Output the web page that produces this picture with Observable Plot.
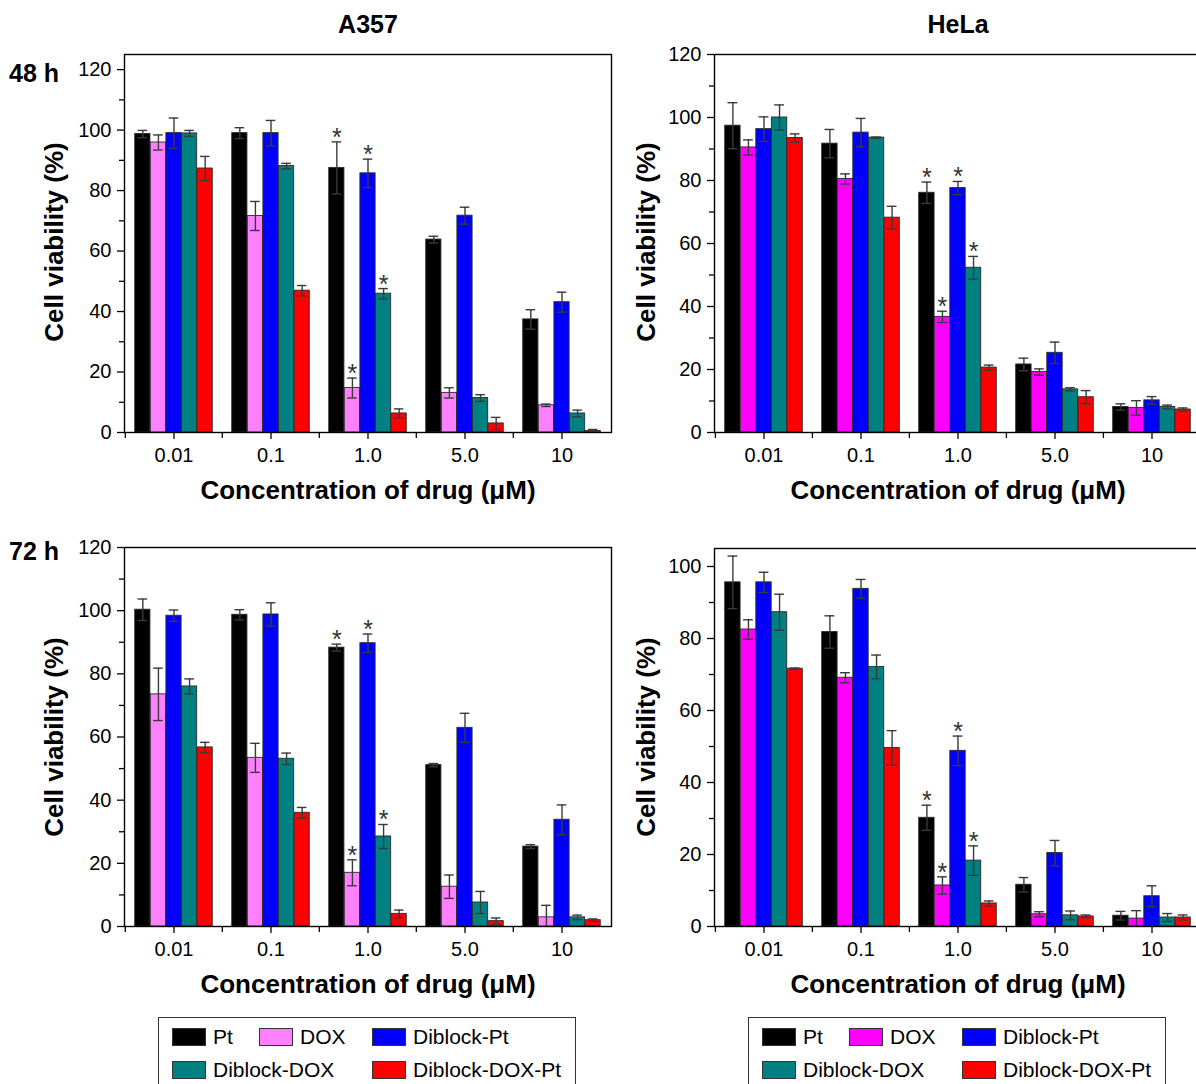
<!DOCTYPE html>
<html>
<head>
<meta charset="utf-8">
<script src="https://cdn.jsdelivr.net/npm/d3@7"></script>
<script src="https://cdn.jsdelivr.net/npm/@observablehq/plot@0.6"></script>
<style>
html, body { margin:0; padding:0; background:#fff; overflow:hidden; width:1196px; height:1084px; }
#page { position:relative; width:1196px; height:1084px; overflow:hidden; font-family:"Liberation Sans", Arial, sans-serif; color:#000; }
.panel { position:absolute; }
.panel svg { max-width:none; display:block; }
.legend { position:absolute; border:1.4px solid #333; background:#fff; box-sizing:border-box; }
.item { position:absolute; display:flex; align-items:center; font-size:21px; white-space:nowrap; height:18px; }
.sw { width:34px; height:18px; border:1px solid #333; box-sizing:border-box; margin-right:7px; flex:none; }
#labels { position:absolute; left:0; top:0; pointer-events:none; }
</style>
</head>
<body>
<div id="page"></div>
<script>
// ---------------- data ----------------
const concentrations = ["0.01", "0.1", "1.0", "5.0", "10"];
const seriesNames = ["Pt", "DOX", "Diblock-Pt", "Diblock-DOX", "Diblock-DOX-Pt"];
const starredSeries = ["Pt", "DOX", "Diblock-Pt", "Diblock-DOX"];
const starredConcentration = "1.0";

// rows follow seriesNames, columns follow concentrations
const a357_48h_mean = [
  [98.7, 99.0, 87.5, 63.8, 37.4],
  [95.9, 71.6, 14.7, 13.1, 9.0],
  [99.0, 99.0, 85.7, 71.7, 43.1],
  [98.9, 88.1, 45.9, 11.4, 6.3],
  [87.3, 46.9, 6.3, 3.0, 0.5]
];
const a357_48h_err = [
  [1.2, 1.8, 8.6, 1.1, 3.2],
  [2.5, 4.8, 3.3, 1.7, 0.4],
  [5.0, 4.2, 4.7, 2.8, 3.3],
  [1.0, 0.9, 1.7, 1.1, 1.1],
  [4.0, 1.7, 1.5, 2.0, 0.5]
];
const hela_48h_mean = [
  [97.4, 91.7, 76.1, 21.6, 8.1],
  [90.5, 80.5, 36.7, 19.2, 7.8],
  [96.3, 95.2, 77.6, 25.3, 10.2],
  [100.0, 93.6, 52.3, 13.7, 8.1],
  [93.5, 68.2, 20.6, 11.2, 7.3]
];
const hela_48h_err = [
  [7.3, 4.5, 3.4, 2.0, 1.0],
  [2.4, 1.6, 1.8, 1.0, 2.3],
  [3.9, 4.5, 2.1, 3.4, 1.2],
  [4.0, 0.2, 3.6, 0.5, 0.6],
  [1.3, 3.6, 0.8, 2.1, 0.5]
];
const a357_72h_mean = [
  [100.3, 98.7, 88.3, 51.1, 25.3],
  [73.5, 53.4, 17.0, 12.6, 2.9],
  [98.4, 98.8, 89.7, 62.9, 33.8],
  [76.0, 53.1, 28.5, 7.6, 2.9],
  [56.7, 36.0, 4.0, 1.7, 2.0]
];
const a357_72h_err = [
  [3.4, 1.6, 1.1, 0.5, 0.6],
  [8.3, 4.6, 4.1, 3.7, 3.8],
  [1.8, 3.7, 2.9, 4.6, 4.7],
  [2.4, 1.8, 3.8, 3.5, 0.7],
  [1.6, 1.7, 1.2, 1.0, 0.4]
];
const hela_72h_mean = [
  [95.6, 81.8, 30.2, 11.6, 3.0],
  [82.5, 69.1, 11.4, 3.4, 2.2],
  [95.6, 93.8, 48.8, 20.4, 8.4],
  [87.3, 72.1, 18.3, 3.1, 2.5],
  [71.6, 49.6, 6.4, 2.8, 2.5]
];
const hela_72h_err = [
  [7.3, 4.5, 3.5, 2.0, 1.2],
  [2.7, 1.4, 2.4, 0.7, 2.2],
  [2.8, 2.6, 4.1, 3.5, 2.9],
  [5.0, 3.3, 4.1, 1.2, 1.1],
  [0.2, 4.8, 0.7, 0.4, 0.7]
];

const yMajor120 = [0, 20, 40, 60, 80, 100, 120];
const yMinor120 = [10, 30, 50, 70, 90, 110];
const yMajor100 = [0, 20, 40, 60, 80, 100];
const yMinor100 = [10, 30, 50, 70, 90];

const colorsA357 = ["#000000", "#ff80ff", "#0000ff", "#008080", "#ff0000"];
const colorsHeLa = ["#000000", "#ff00ff", "#0000ff", "#008080", "#ff0000"];

const cellTitles = ["A357", "HeLa"];
const timeLabels = ["48 h", "72 h"];
const yLabel = "Cell viability (%)";
const xLabel = "Concentration of drug (\u03bcM)";

// ---------------- drawing ----------------
const page = document.getElementById("page");
const FONT = '"Liberation Sans", Arial, sans-serif';

function drawPanel({means, errs, colors, yMax, major, minor, left, top, width, height, mL, mR, mT, mB}) {
  const rows = [];
  seriesNames.forEach((s, si) => concentrations.forEach((c, ci) => {
    const v = means[si][ci], e = errs[si][ci];
    rows.push({series: s, conc: c, v, lo: Math.max(0, v - e), hi: v + e, lowCap: v - e > 0,
               star: c === starredConcentration && starredSeries.includes(s)});
  }));
  const step = (width - mL - mR) / concentrations.length;
  const bw = step * 0.8 / seriesNames.length;
  const barInset = (step - bw) / 2;
  const capInset = (step - 10) / 2;
  const marks = [];
  seriesNames.forEach((s, si) => {
    const d = rows.filter(r => r.series === s);
    const dx = (si - (seriesNames.length - 1) / 2) * bw;
    marks.push(Plot.barY(d, {x: "conc", y: "v", fill: "series", stroke: "#2a2a2a", strokeWidth: 0.9,
      dx, insetLeft: barInset, insetRight: barInset}));
    marks.push(Plot.ruleX(d, {x: "conc", y1: "lo", y2: "hi", dx, stroke: "#3a3a3a", strokeWidth: 1.4}));
    marks.push(Plot.tickY(d, {x: "conc", y: "hi", dx, stroke: "#3a3a3a", strokeWidth: 1.4,
      insetLeft: capInset, insetRight: capInset}));
    marks.push(Plot.tickY(d.filter(r => r.lowCap), {x: "conc", y: "lo", dx, stroke: "#3a3a3a", strokeWidth: 1.4,
      insetLeft: capInset, insetRight: capInset}));
    marks.push(Plot.text(d.filter(r => r.star), {x: "conc", y: "hi", dx, dy: 4, text: () => "*",
      lineAnchor: "bottom", fontSize: 25, fill: "#333"}));
  });
  marks.push(Plot.frame({stroke: "#000", strokeWidth: 1.4}));
  marks.push(Plot.axisY({ticks: major, tickSize: 7, tickPadding: 6, fontSize: 20, label: null, strokeWidth: 1.3}));
  marks.push(Plot.axisY({ticks: minor, tickSize: 5, tickFormat: () => "", label: null, strokeWidth: 1.3}));
  marks.push(Plot.axisX({tickSize: 7, tickPadding: 8, fontSize: 20, label: null, strokeWidth: 1.3}));
  marks.push(Plot.axisX({tickSize: 6, tickFormat: () => "", label: null, dx: -step / 2, strokeWidth: 1.3}));

  const svg = Plot.plot({
    width, height, marginLeft: mL, marginRight: mR, marginTop: mT, marginBottom: mB,
    style: {fontFamily: FONT, fontSize: "20px", color: "#000", background: "transparent", overflow: "visible"},
    x: {type: "band", domain: concentrations, padding: 0, label: null},
    y: {domain: [0, yMax], label: null},
    color: {domain: seriesNames, range: colors},
    marks
  });
  const div = document.createElement("div");
  div.className = "panel";
  div.style.left = left + "px";
  div.style.top = top + "px";
  div.appendChild(svg);
  page.appendChild(div);
}

drawPanel({means: a357_48h_mean, errs: a357_48h_err, colors: colorsA357, yMax: 125, major: yMajor120, minor: yMinor120,
  left: 0, top: 40, width: 620, height: 460, mL: 124, mR: 9, mT: 14, mB: 68});
drawPanel({means: hela_48h_mean, errs: hela_48h_err, colors: colorsHeLa, yMax: 120, major: yMajor120, minor: yMinor120,
  left: 600, top: 40, width: 600, height: 460, mL: 114, mR: 0, mT: 14, mB: 68});
drawPanel({means: a357_72h_mean, errs: a357_72h_err, colors: colorsA357, yMax: 120, major: yMajor120, minor: yMinor120,
  left: 0, top: 530, width: 620, height: 460, mL: 124, mR: 9, mT: 17, mB: 64});
drawPanel({means: hela_72h_mean, errs: hela_72h_err, colors: colorsHeLa, yMax: 105, major: yMajor100, minor: yMinor100,
  left: 600, top: 530, width: 600, height: 460, mL: 114, mR: 0, mT: 18, mB: 64});

// ---------------- text labels ----------------
const NS = "http://www.w3.org/2000/svg";
const lab = document.createElementNS(NS, "svg");
lab.setAttribute("id", "labels");
lab.setAttribute("width", 1196);
lab.setAttribute("height", 1084);
function addText(str, x, y, opts = {}) {
  const t = document.createElementNS(NS, "text");
  t.textContent = str;
  t.setAttribute("x", x);
  t.setAttribute("y", y);
  t.setAttribute("font-family", FONT);
  t.setAttribute("font-size", opts.size || 26);
  t.setAttribute("font-weight", "bold");
  t.setAttribute("text-anchor", opts.anchor || "middle");
  if (opts.rotate) t.setAttribute("transform", `rotate(-90 ${x} ${y})`);
  lab.appendChild(t);
}
addText(cellTitles[0], 368, 33, {size: 25});
addText(cellTitles[1], 958, 33, {size: 25});
addText(timeLabels[0], 9, 82, {size: 25, anchor: "start"});
addText(timeLabels[1], 9, 560, {size: 25, anchor: "start"});
addText(xLabel, 368, 499);
addText(xLabel, 958, 499);
addText(xLabel, 368, 993);
addText(xLabel, 958, 993);
addText(yLabel, 63, 242, {rotate: true});
addText(yLabel, 655, 242, {rotate: true});
addText(yLabel, 63, 737, {rotate: true});
addText(yLabel, 655, 737, {rotate: true});
page.appendChild(lab);

// ---------------- legends ----------------
function drawLegend(left, colors) {
  const box = document.createElement("div");
  box.className = "legend";
  box.style.left = left + "px";
  box.style.top = "1017px";
  box.style.width = "418px";
  box.style.height = "90px";
  const slots = [[13, 10], [100, 10], [213, 10], [13, 43], [213, 43]];
  seriesNames.forEach((s, i) => {
    const it = document.createElement("div");
    it.className = "item";
    it.style.left = slots[i][0] + "px";
    it.style.top = slots[i][1] + "px";
    const sw = document.createElement("div");
    sw.className = "sw";
    sw.style.background = colors[i];
    const tx = document.createElement("span");
    tx.textContent = s;
    it.appendChild(sw);
    it.appendChild(tx);
    box.appendChild(it);
  });
  page.appendChild(box);
}
drawLegend(158, colorsA357);
drawLegend(748, colorsHeLa);
</script>
</body>
</html>
